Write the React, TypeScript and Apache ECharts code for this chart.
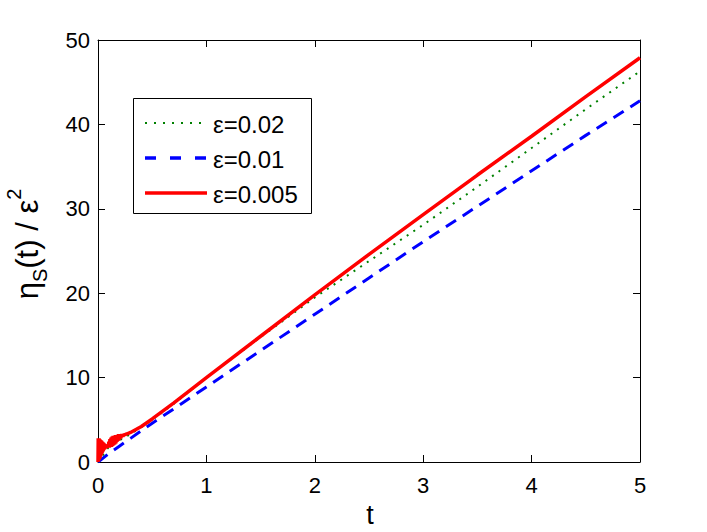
import React, { useEffect, useRef } from "react";
import * as echarts from "echarts";

const xTicks = [0, 1, 2, 3, 4, 5];
const yTicks = [0, 10, 20, 30, 40, 50];

const legendLabels = ["ε=0.02", "ε=0.01", "ε=0.005"];

const greenT = [0, 0.1, 0.2, 0.3, 0.5, 0.7, 1, 1.5, 2, 2.5, 3, 3.5, 4, 4.5, 5];
const greenV = [0, 1.8, 2.6, 3.3, 5.0, 6.9, 10.0, 14.8, 19.5, 23.8, 28.1, 32.6, 37.2, 41.8, 46.3];

const blueT = [0, 0.1, 0.2, 0.3, 0.5, 0.7, 1, 1.5, 2, 2.5, 3, 3.5, 4, 4.5, 5];
const blueV = [0, 1.0, 1.9, 2.8, 4.6, 6.3, 8.9, 13.2, 17.5, 21.8, 26.1, 30.3, 34.5, 38.7, 42.8];

const redT = [
  0, 0.002, 0.004, 0.006, 0.008, 0.01, 0.012, 0.014, 0.016, 0.018, 0.02, 0.022, 0.024, 0.026,
  0.028, 0.03, 0.032, 0.034, 0.036, 0.038, 0.04, 0.042, 0.044, 0.046, 0.048, 0.05, 0.053, 0.056,
  0.06, 0.064, 0.068, 0.072, 0.076, 0.08, 0.085, 0.09,
  0.095, 0.1, 0.105, 0.11, 0.115, 0.12, 0.125, 0.13, 0.135, 0.14, 0.145, 0.15, 0.155, 0.16, 0.165,
  0.17, 0.175, 0.18, 0.185, 0.19, 0.195, 0.2, 0.21, 0.22, 0.23, 0.24, 0.25, 0.26, 0.28, 0.3, 0.4,
  0.5, 0.7, 1, 1.5, 2, 2.5, 3, 3.5, 4, 4.5, 5,
];
const redV = [
  0, 2.8, 0.1, 2.8, 0.2, 2.8, 0.3, 2.7, 0.4, 2.7, 0.5, 2.6, 0.7, 2.6,
  0.8, 2.5, 0.9, 2.5, 1.0, 2.4, 1.1, 2.4, 1.2, 2.3, 1.3, 2.3, 1.4, 2.2,
  1.5, 2.1, 1.6, 2.0, 1.6, 1.9, 1.7, 2.0,
  1.8, 2.4, 1.7, 2.7, 1.8, 2.9, 1.8, 3.0, 1.9, 3.1, 2.0, 3.1, 2.1, 3.2, 2.2,
  3.2, 2.4, 3.2, 2.5, 3.3, 2.6, 3.3, 2.8, 3.3, 3.0, 3.3, 3.2, 3.3, 3.4, 3.5, 4.2,
  5.1, 7.0, 10.0, 14.9, 19.8, 24.6, 29.3, 34.0, 38.6, 43.3, 47.9,
];

const FONT = "'Liberation Sans', Arial, Helvetica, sans-serif";
const GREEN = "#008000";
const BLUE = "#0000ff";
const RED = "#ff0000";

const zip = (t: number[], v: number[]) => t.map((x, i) => [x, v[i]]);

export default function App() {
  const ref = useRef<HTMLDivElement>(null);
  useEffect(() => {
    if (!ref.current) return;
    const chart = echarts.init(ref.current, null, { renderer: "svg" });
    const axisCommon = {
      type: "value" as const,
      axisLine: { show: true, onZero: false, lineStyle: { color: "#000", width: 1 } },
      axisTick: { show: true, inside: true, length: 7, lineStyle: { color: "#000" } },
      splitLine: { show: false },
    };
    const lx = 145, lx2 = 207, tx = 213;
    const ly = [123, 158, 193];
    chart.setOption({
      animation: false,
      backgroundColor: "#fff",
      grid: { left: 98, right: 67, top: 40, bottom: 70, containLabel: false },
      xAxis: [
        {
          ...axisCommon,
          position: "bottom",
          min: 0,
          max: 5,
          interval: 1,
          axisLabel: { color: "#000", fontSize: 22, fontFamily: FONT, margin: 12 },
        },
        {
          ...axisCommon,
          position: "top",
          min: 0,
          max: 5,
          interval: 1,
          axisLabel: { show: false },
        },
      ],
      yAxis: [
        {
          ...axisCommon,
          position: "left",
          min: 0,
          max: 50,
          interval: 10,
          axisLabel: { color: "#000", fontSize: 22, fontFamily: FONT, margin: 8 },
        },
        {
          ...axisCommon,
          position: "right",
          min: 0,
          max: 50,
          interval: 10,
          axisLabel: { show: false },
        },
      ],
      series: [
        {
          type: "line",
          name: legendLabels[0],
          data: zip(greenT, greenV),
          showSymbol: false,
          lineStyle: { color: GREEN, width: 2, type: [2, 6] },
          z: 2,
        },
        {
          type: "line",
          name: legendLabels[1],
          data: zip(blueT, blueV),
          showSymbol: false,
          lineStyle: { color: BLUE, width: 3, type: [12, 8] },
          z: 3,
        },
        {
          type: "line",
          name: legendLabels[2],
          data: zip(redT, redV),
          showSymbol: false,
          lineStyle: { color: RED, width: 3.5 },
          z: 4,
        },
      ],
      graphic: [
        {
          type: "rect",
          shape: { x: 133.5, y: 98.5, width: 178, height: 115 },
          style: { fill: "#fff", stroke: "#000", lineWidth: 1 },
          z: 100,
        },
        {
          type: "line",
          shape: { x1: lx, y1: ly[0], x2: lx2, y2: ly[0] },
          style: { stroke: GREEN, lineWidth: 2, lineDash: [2, 7] },
          z: 101,
        },
        {
          type: "line",
          shape: { x1: lx, y1: ly[1], x2: lx2, y2: ly[1] },
          style: { stroke: BLUE, lineWidth: 3.5, lineDash: [11, 14] },
          z: 101,
        },
        {
          type: "line",
          shape: { x1: lx, y1: ly[2], x2: lx2, y2: ly[2] },
          style: { stroke: RED, lineWidth: 3.5 },
          z: 101,
        },
        ...legendLabels.map((s, i) => ({
          type: "text",
          x: tx,
          y: ly[i] + 1,
          style: {
            text: s,
            fontSize: 24,
            fontFamily: FONT,
            fill: "#000",
            align: "left",
            verticalAlign: "middle",
          },
          z: 101,
        })),
        {
          type: "text",
          x: 370,
          y: 515,
          style: {
            text: "t",
            fontSize: 27,
            fontFamily: FONT,
            fill: "#000",
            align: "center",
            verticalAlign: "middle",
          },
        },
        {
          type: "text",
          x: 27,
          y: 244,
          rotation: Math.PI / 2,
          style: {
            text: "{m|η}{s|S}{m|(t) / ε}{p|2}",
            fontFamily: FONT,
            fill: "#000",
            align: "center",
            verticalAlign: "middle",
            rich: {
              m: { fontSize: 31, lineHeight: 46, fontFamily: FONT, fill: "#000", verticalAlign: "middle" },
              s: { fontSize: 20, lineHeight: 46, fontFamily: FONT, fill: "#000", verticalAlign: "bottom" },
              p: { fontSize: 20, lineHeight: 46, fontFamily: FONT, fill: "#000", verticalAlign: "top" },
            },
          },
        },
      ],
    });
    return () => chart.dispose();
  }, []);
  return <div ref={ref} style={{ width: 707, height: 532, position: "absolute", left: 0, top: 0 }} />;
}
